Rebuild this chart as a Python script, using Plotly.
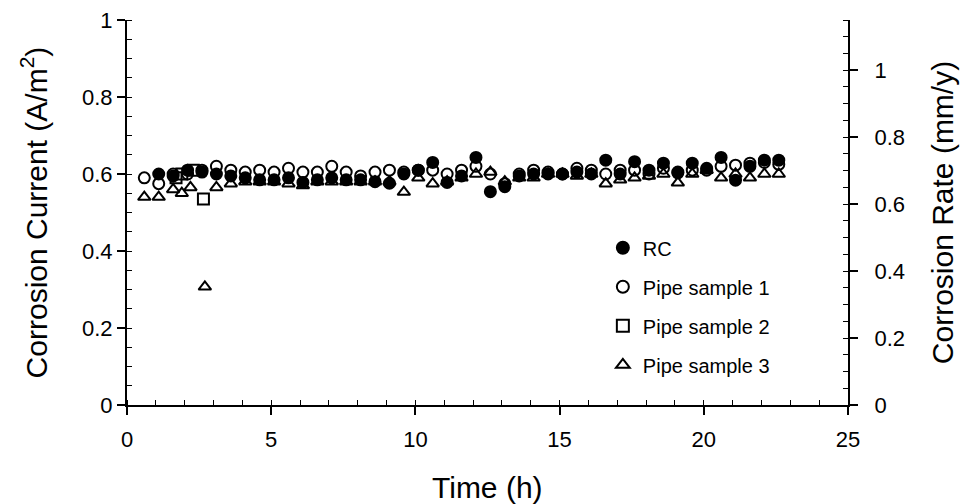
import plotly.graph_objects as go

# ---- data ----
t_pipe1 = [0.6, 1.1, 1.6, 2.1, 2.6, 3.1, 3.6, 4.1, 4.6, 5.1, 5.6, 6.1, 6.6, 7.1, 7.6, 8.1, 8.6, 9.1,
           9.6, 10.1, 10.6, 11.1, 11.6, 12.1, 12.6, 13.1, 13.6, 14.1, 14.6, 15.1, 15.6, 16.1, 16.6,
           17.1, 17.6, 18.1, 18.6, 19.1, 19.6, 20.1, 20.6, 21.1, 21.6, 22.1, 22.6]
v_pipe1 = [0.59, 0.575, 0.60, 0.60, 0.61, 0.62, 0.61, 0.605, 0.61, 0.605, 0.615, 0.605, 0.605, 0.62,
           0.605, 0.595, 0.605, 0.61, 0.605, 0.61, 0.61, 0.60, 0.61, 0.62, 0.60, 0.575, 0.60, 0.61,
           0.605, 0.60, 0.615, 0.61, 0.60, 0.61, 0.61, 0.60, 0.615, 0.603, 0.61, 0.61, 0.62, 0.623,
           0.628, 0.63, 0.625]

t_rc = [1.1, 1.6, 2.1, 2.6, 3.1, 3.6, 4.1, 4.6, 5.1, 5.6, 6.1, 6.6, 7.1, 7.6, 8.1, 8.6, 9.1, 9.6,
        10.1, 10.6, 11.1, 11.6, 12.1, 12.6, 13.1, 13.6, 14.1, 14.6, 15.1, 15.6, 16.1, 16.6, 17.1,
        17.6, 18.1, 18.6, 19.1, 19.6, 20.1, 20.6, 21.1, 21.6, 22.1, 22.6]
v_rc = [0.60, 0.595, 0.61, 0.605, 0.60, 0.595, 0.59, 0.585, 0.585, 0.59, 0.578, 0.585, 0.59, 0.585,
        0.585, 0.58, 0.576, 0.60, 0.61, 0.63, 0.578, 0.595, 0.643, 0.554, 0.567, 0.595, 0.60, 0.60,
        0.60, 0.605, 0.60, 0.636, 0.60, 0.632, 0.61, 0.628, 0.605, 0.628, 0.615, 0.643, 0.584, 0.62,
        0.636, 0.636]

t_pipe2 = [1.7, 1.9, 2.3, 2.65]
v_pipe2 = [0.59, 0.60, 0.61, 0.535]

t_pipe3 = [0.6, 1.1, 1.6, 1.9, 2.2, 2.7, 3.1, 3.6, 4.1, 4.6, 5.1, 5.6, 6.1, 6.6, 7.1, 7.6, 8.1, 8.6,
           9.1, 9.6, 10.1, 10.6, 11.1, 11.6, 12.1, 12.6, 13.1, 13.6, 14.1, 14.6, 15.1, 15.6, 16.1,
           16.6, 17.1, 17.6, 18.1, 18.6, 19.1, 19.6, 20.1, 20.6, 21.1, 21.6, 22.1, 22.6]
v_pipe3 = [0.54, 0.54, 0.56, 0.55, 0.565, 0.307, 0.565, 0.575, 0.58, 0.58, 0.58, 0.575, 0.57, 0.58,
           0.58, 0.58, 0.58, 0.58, 0.58, 0.553, 0.59, 0.575, 0.58, 0.59, 0.60, 0.605, 0.58, 0.59,
           0.59, 0.60, 0.60, 0.595, 0.60, 0.575, 0.585, 0.59, 0.595, 0.60, 0.577, 0.60, 0.61, 0.59,
           0.60, 0.59, 0.60, 0.60]

series = [
    ("RC", t_rc, v_rc, "circle"),
    ("Pipe sample 1", t_pipe1, v_pipe1, "circle-open"),
    ("Pipe sample 2", t_pipe2, v_pipe2, "square-open"),
    ("Pipe sample 3", t_pipe3, v_pipe3, "triangle-up-open"),
]

FONT = "Liberation Sans, Arial, sans-serif"

fig = go.Figure()
order = [1, 2, 3, 0]
for i in order:
    name, t, v, sym = series[i]
    fig.add_trace(go.Scatter(
        x=t, y=v, mode="markers", name=name, legendgroup=name, legendrank=i,
        marker=dict(symbol=sym, size=11, color="black", line=dict(color="black", width=2)),
    ))

fig.add_trace(go.Scatter(x=[0], y=[0], yaxis="y2", mode="markers",
                         marker=dict(opacity=0), showlegend=False, hoverinfo="skip"))

axis_common = dict(showline=True, linecolor="black", linewidth=2, showgrid=False, zeroline=False,
                   ticks="outside", tickcolor="black", tickwidth=1.5, ticklen=8, automargin=False,
                   ticklabeloverflow="allow",
                   tickfont=dict(family=FONT, size=22, color="black"))

# the page body adds an 8 px offset at top/left
fig.update_layout(
    width=952, height=496,
    margin=dict(l=119, r=112, t=12, b=99),
    paper_bgcolor="white", plot_bgcolor="white",
    font=dict(family=FONT, color="black"),
    xaxis=dict(range=[0, 25], dtick=5, tick0=0, ticklabelstandoff=6,
               minor=dict(ticks="inside", dtick=1, ticklen=5, tickcolor="black", tickwidth=1),
               **axis_common),
    yaxis=dict(range=[0, 1], dtick=0.2, tick0=0, tickformat="~g",
               title=dict(text="Corrosion Current (A/m<sup>2</sup>)", font=dict(family=FONT, size=30), standoff=26),
               minor=dict(ticks="inside", dtick=0.05, ticklen=5, tickcolor="black", tickwidth=1),
               **axis_common),
    yaxis2=dict(range=[0, 1.15], dtick=0.2, tick0=0, tickformat="~g", overlaying="y", side="right",
                ticklabelstandoff=12,
                title=dict(text="Corrosion Rate (mm/y)", font=dict(family=FONT, size=30), standoff=28),
                minor=dict(ticks="inside", dtick=0.05, ticklen=5, tickcolor="black", tickwidth=1),
                **axis_common),
    legend=dict(x=0.66, y=0.459, xanchor="left", yanchor="top", bgcolor="rgba(0,0,0,0)",
                font=dict(family=FONT, size=20, color="black"), tracegroupgap=10,
                itemsizing="constant"),
    annotations=[dict(text="Time (h)", xref="paper", yref="paper", x=0.5, y=-0.213,
                      xanchor="center", yanchor="middle", showarrow=False,
                      font=dict(family=FONT, size=30, color="black"))],
    showlegend=True,
)

fig.write_html("out.html")
